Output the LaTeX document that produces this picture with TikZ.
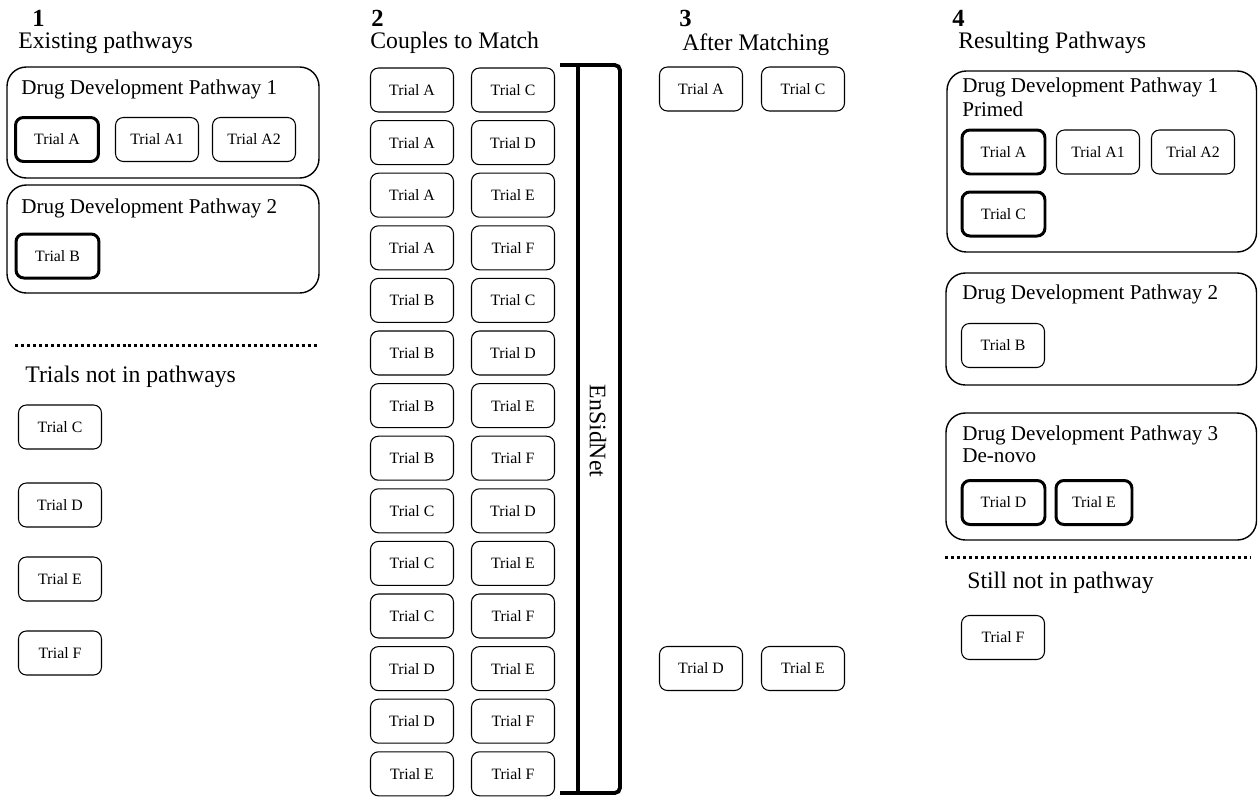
\documentclass[tikz,border=0pt]{standalone}
\usepackage{fontspec}
\setmainfont{Liberation Serif}
\usepackage{tikz}
\usetikzlibrary{positioning}
\tikzset{
  trial/.style={draw,rounded corners=4.5pt,line width=0.6pt,minimum width=1.66cm,minimum height=0.88cm,inner sep=0pt,font=\fontsize{9}{10}\selectfont},
  anker/.style={trial,line width=1.7pt},
  pfad/.style={draw,rounded corners=11pt,line width=0.8pt},
  titel/.style={anchor=base west,inner sep=0pt,font=\fontsize{13.5}{15}\selectfont},
  nummer/.style={anchor=base west,inner sep=0pt,font=\bfseries\fontsize{14}{15}\selectfont},
  pwtext/.style={anchor=base west,inner sep=0pt,font=\fontsize{12}{14}\selectfont},
  trenner/.style={line width=1.7pt,dash pattern=on 1.7pt off 1.7pt}
}
\begin{document}
\begin{tikzpicture}[x=0.02cm,y=-0.02cm]
\useasboundingbox (0,0) rectangle (1258,796);
% 1: existing pathways
\node[nummer] (n1) at (32,26) {1};
\node[titel] (t1) at (18,48) {Existing pathways};
\draw[pfad] (7,67) rectangle (319,178);
\node[pwtext] (p1) at (21,94) {Drug Development Pathway 1};
\node[anker] (a1) at (57,139.5) {Trial A};
\node[trial] (a1a) at (157,139.5) {Trial A1};
\node[trial] (a1b) at (254,139.5) {Trial A2};
\draw[pfad] (7,185) rectangle (319,293);
\node[pwtext] (p2) at (21,213) {Drug Development Pathway 2};
\node[anker] (b1) at (57.5,256) {Trial B};
\draw[trenner] (15,345) -- (318,345);
\node[titel] (o1) at (25,382) {Trials not in pathways};
\node[trial] (c1) at (60,427) {Trial C};
\node[trial] (d1) at (60,505) {Trial D};
\node[trial] (e1) at (60,579) {Trial E};
\node[trial] (f1) at (60,653) {Trial F};
% 2: couples to match
\node[nummer] (n2) at (371,26) {2};
\node[titel] (t2) at (370,48) {Couples to Match};
\foreach \a/\b [count=\i] in {A/C,A/D,A/E,A/F,B/C,B/D,B/E,B/F,C/D,C/E,C/F,D/E,D/F,E/F}{
  \node[trial] (l\i) at (412,{90+52.6*(\i-1)}) {Trial \a};
  \node[trial] (r\i) at (513,{90+52.6*(\i-1)}) {Trial \b};
}
\draw[line width=2.2pt,rounded corners=3pt] (560,65) -- (620,65) -- (620,793) -- (560,793);
\draw[line width=2.2pt] (578,65) -- (578,793);
\node[rotate=-90,inner sep=0pt,font=\fontsize{13.5}{15}\selectfont] (net) at (598,431) {EnSidNet};
% 3: after matching
\node[nummer] (n3) at (679,26) {3};
\node[titel] (t3) at (682,50) {After Matching};
\node[trial] (a3) at (701,89) {Trial A};
\node[trial] (c3) at (803,89) {Trial C};
\node[trial] (d3) at (701,668.5) {Trial D};
\node[trial] (e3) at (803,668.5) {Trial E};
% 4: resulting pathways
\node[nummer] (n4) at (952,26) {4};
\node[titel] (t4) at (958,48) {Resulting Pathways};
\draw[pfad] (947,71) rectangle (1256.5,252);
\node[pwtext] (q1) at (962,92) {Drug Development Pathway 1};
\node[pwtext] (q1b) at (962,116) {Primed};
\node[anker] (a4) at (1003.5,152) {Trial A};
\node[trial] (a4a) at (1098,152) {Trial A1};
\node[trial] (a4b) at (1193,152) {Trial A2};
\node[anker] (c4) at (1003.5,214) {Trial C};
\draw[pfad] (946,273) rectangle (1256.5,385);
\node[pwtext] (q2) at (962,299) {Drug Development Pathway 2};
\node[trial] (b4) at (1003,345.5) {Trial B};
\draw[pfad] (946,413) rectangle (1256.5,540);
\node[pwtext] (q3) at (962,440) {Drug Development Pathway 3};
\node[pwtext] (q3b) at (962,462) {De-novo};
\node[anker] (d4) at (1003.5,502.5) {Trial D};
\node[anker,minimum width=1.52cm] (e4) at (1094,502.5) {Trial E};
\draw[trenner] (945,557) -- (1250,557);
\node[titel] (o4) at (967,588) {Still not in pathway};
\node[trial] (f4) at (1003,637.5) {Trial F};
\end{tikzpicture}
\end{document}
